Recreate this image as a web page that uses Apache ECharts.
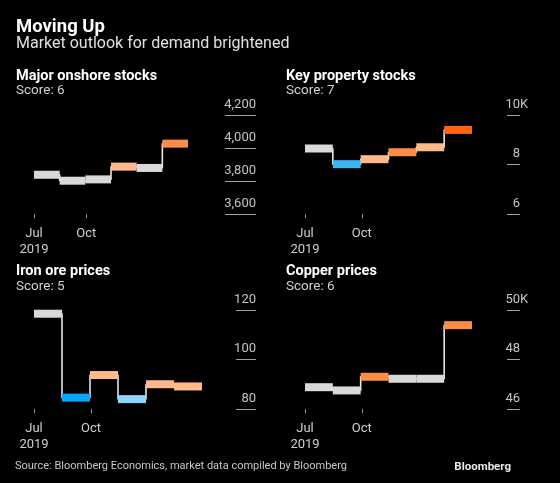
<!DOCTYPE html>
<html>
<head>
<meta charset="utf-8">
<script src="https://cdn.jsdelivr.net/npm/echarts@6/dist/echarts.min.js"></script>
<style>
html,body{margin:0;padding:0;background:#000;}
#chart{width:560px;height:483px;}
</style>
</head>
<body>
<div id="chart"></div>
<script>
// ---- data ----
const chartTitle = 'Moving Up';
const chartSubtitle = 'Market outlook for demand brightened';
const sourceText = 'Source: Bloomberg Economics, market data compiled by Bloomberg';
const brandText = 'Bloomberg';

const panelTitles = ['Major onshore stocks', 'Key property stocks', 'Iron ore prices', 'Copper prices'];
const panelScores = ['Score: 6', 'Score: 7', 'Score: 5', 'Score: 6'];

// x positions measured in periods (one bar per period)
const xTickValues = [0, 2.04];
const xTickLabels = ['Jul\n2019', 'Oct'];

const onshoreValues  = [3839, 3803, 3811, 3888, 3880, 4027];
const onshoreSignals = ['neutral', 'neutral', 'neutral', 'mildUp', 'neutral', 'up'];
const onshoreTicks   = [3600, 3800, 4000, 4200];
const onshoreTickLabels = ['3,600', '3,800', '4,000', '4,200'];

const propertyValues  = [8.65, 8.02, 8.22, 8.50, 8.70, 9.40];
const propertySignals = ['neutral', 'down', 'mildUp', 'up', 'mildUp', 'strongUp'];
const propertyTicks   = [6, 8, 10];
const propertyTickLabels = ['6', '8', '10K'];

const ironValues  = [118.5, 84.7, 93.8, 84.1, 90.1, 89.2];
const ironSignals = ['neutral', 'strongDown', 'mildUp', 'mildDown', 'mildUp', 'mildUp'];
const ironTicks   = [80, 100, 120];
const ironTickLabels = ['80', '100', '120'];

const copperValues  = [46.89, 46.76, 47.31, 47.23, 47.23, 49.39];
const copperSignals = ['neutral', 'neutral', 'up', 'neutral', 'neutral', 'up'];
const copperTicks   = [46, 48, 50];
const copperTickLabels = ['46', '48', '50K'];

// ---- styling ----
const signalColors = {
  neutral: '#d9d9d9',
  mildUp: '#ffb98a',
  up: '#ff8c45',
  strongUp: '#ff6414',
  down: '#3db4f6',
  strongDown: '#05a6ff',
  mildDown: '#8fd5ff'
};
const FONT = 'Roboto';

const panels = [
  { values: onshoreValues, signals: onshoreSignals, ticks: onshoreTicks, tickLabels: onshoreTickLabels,
    grid: { left: 34, top: 115, width: 154, height: 99.3 }, axisX: 256, tickLen: 31, titleX: 16, titleY: 75 },
  { values: propertyValues, signals: propertySignals, ticks: propertyTicks, tickLabels: propertyTickLabels,
    grid: { left: 305, top: 115, width: 167, height: 99.3 }, axisX: 520, tickLen: 13, titleX: 286, titleY: 75 },
  { values: ironValues, signals: ironSignals, ticks: ironTicks, tickLabels: ironTickLabels,
    grid: { left: 34, top: 310, width: 168, height: 99.3 }, axisX: 256, tickLen: 20, titleX: 16, titleY: 270.5 },
  { values: copperValues, signals: copperSignals, ticks: copperTicks, tickLabels: copperTickLabels,
    grid: { left: 305, top: 310, width: 167, height: 99.3 }, axisX: 520, tickLen: 13, titleX: 286, titleY: 270.5 }
];

const grids = [], xAxes = [], yAxes = [], series = [], graphics = [];

panels.forEach((p, pi) => {
  const gi = grids.length;        // data grid
  const ai = gi + 1;              // axis (value-label) grid
  const hasSuffix = p.tickLabels.some(l => /[A-Za-z]$/.test(l));
  const yMin = p.ticks[0], yMax = p.ticks[p.ticks.length - 1], step = p.ticks[1] - p.ticks[0];

  grids.push(p.grid);
  grids.push({ left: p.axisX - p.tickLen, top: p.grid.top, width: p.tickLen, height: p.grid.height });

  xAxes.push({
    gridIndex: gi, type: 'value', min: 0, max: p.values.length,
    axisLine: { show: false }, splitLine: { show: false },
    axisTick: { show: true, customValues: xTickValues, length: 4, lineStyle: { color: '#9a9a9a', width: 1 } },
    axisLabel: {
      show: true, customValues: xTickValues,
      formatter: v => { const i = xTickValues.indexOf(v); return i >= 0 ? xTickLabels[i] : ''; },
      color: '#cfcfcf', fontFamily: FONT, fontSize: 13, lineHeight: 16, margin: 11
    }
  });
  xAxes.push({ gridIndex: ai, type: 'value', min: 0, max: 1, show: false });

  yAxes.push({
    gridIndex: gi, type: 'value', min: yMin, max: yMax, interval: step, show: false,
    splitLine: { show: false }
  });
  yAxes.push({
    gridIndex: ai, type: 'value', position: 'right',
    min: yMin, max: yMax, interval: step,
    axisLine: { show: false }, axisTick: { show: false },
    splitLine: { show: true, lineStyle: { color: '#a0a0a0', width: 1 } },
    axisLabel: {
      show: true, inside: false, align: 'right', margin: hasSuffix ? 8 : 0,
      verticalAlign: 'bottom', padding: [0, 0, 4, 0],
      formatter: v => {
        const i = p.ticks.indexOf(v);
        const l = i >= 0 ? p.tickLabels[i] : '';
        if (!hasSuffix) return l;
        const m = l.match(/^(.*?)([A-Za-z]?)$/);
        return '{n|' + m[1] + '}{k|' + (m[2] || '\u00a0') + '}';
      },
      rich: { n: { color: '#c4c4c4', fontFamily: FONT, fontSize: 13 }, k: { color: '#c4c4c4', fontFamily: FONT, fontSize: 13, width: 8, align: 'left' } },
      color: '#c4c4c4', fontFamily: FONT, fontSize: 13
    }
  });

  // connectors (step path)
  const stepData = [];
  p.values.forEach((v, i) => { stepData.push([i, v]); stepData.push([i + 1, v]); });
  series.push({
    type: 'line', xAxisIndex: gi, yAxisIndex: gi, data: stepData, symbol: 'none',
    lineStyle: { color: '#e8e8e8', width: 1.6 }, z: 2, silent: true, animation: false
  });
  // period bars
  series.push({
    type: 'custom', xAxisIndex: gi, yAxisIndex: gi, z: 3, animation: false,
    data: p.values.map((v, i) => ({ value: [i, v], itemStyle: { color: signalColors[p.signals[i]] } })),
    renderItem: (params, api) => {
      const i = api.value(0), v = api.value(1);
      const a = api.coord([i, v]), b = api.coord([i + 1, v]);
      return { type: 'rect', shape: { x: a[0], y: a[1] - 4, width: b[0] - a[0], height: 8 },
               style: { fill: api.visual('color') } };
    }
  });
  graphics.push({ type: 'text', x: p.titleX, y: p.titleY + 1, style: { text: panelTitles[pi], fill: '#ffffff', font: 'bold 14.5px ' + FONT, textVerticalAlign: 'middle' } });
  graphics.push({ type: 'text', x: p.titleX, y: p.titleY + 16, style: { text: panelScores[pi], fill: '#d0d0d0', font: '13.5px ' + FONT, textVerticalAlign: 'middle' } });
});

graphics.push({ type: 'text', x: 16, y: 27, style: { text: chartTitle, fill: '#ffffff', font: 'bold 18.5px ' + FONT, textVerticalAlign: 'middle' } });
graphics.push({ type: 'text', x: 16, y: 44, style: { text: chartSubtitle, fill: '#e0e0e0', font: '16px ' + FONT, textVerticalAlign: 'middle' } });
graphics.push({ type: 'text', x: 15, y: 466, style: { text: sourceText, fill: '#c8c8c8', font: '11px ' + FONT, textVerticalAlign: 'middle' } });
graphics.push({ type: 'text', x: 511, y: 467, style: { text: brandText, fill: '#e6e6e6', font: 'bold 11.5px ' + FONT, textVerticalAlign: 'middle', textAlign: 'right' } });

const chart = echarts.init(document.getElementById('chart'), null, { renderer: 'canvas' });
chart.setOption({
  backgroundColor: '#000000',
  animation: false,
  grid: grids, xAxis: xAxes, yAxis: yAxes, series: series,
  graphic: graphics
});
</script>
</body>
</html>
